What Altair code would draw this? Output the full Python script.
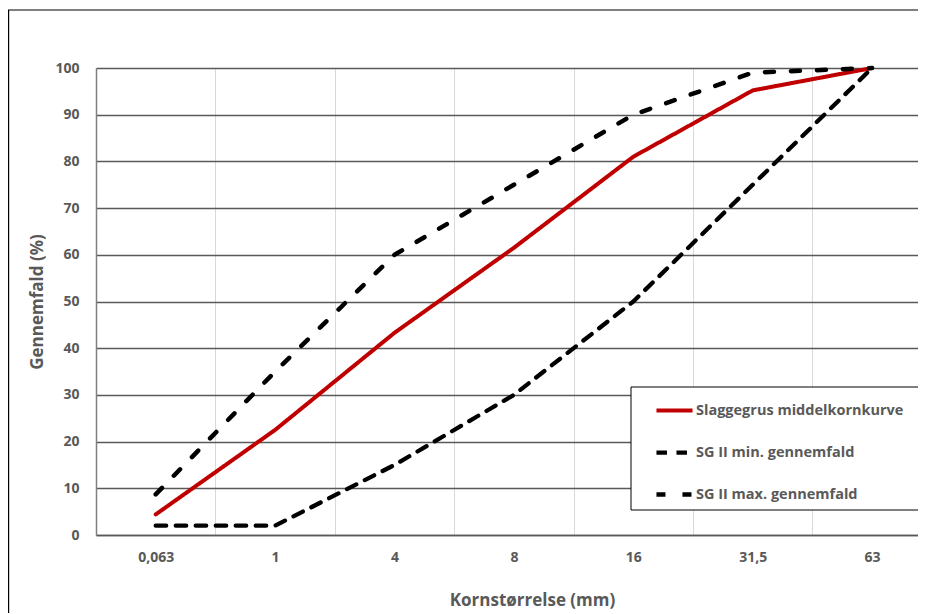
import json
import altair as alt
import pandas as pd

# --- data -------------------------------------------------------------
sizes = ["0,063", "1", "4", "8", "16", "31,5", "63"]
series_names = ["Slaggegrus middelkornkurve", "SG II min. gennemfald", "SG II max. gennemfald"]
red_curve = [4.4, 22.5, 43.3, 61.5, 81.0, 95.2, 100]
min_curve = [2, 2, 15, 30, 50, 75, 100]
max_curve = [8.7, 35, 60, 75, 90, 99, 100]
y_ticks = [0, 10, 20, 30, 40, 50, 60, 70, 80, 90, 100]

rows = []
for name, vals in zip(series_names, [red_curve, min_curve, max_curve]):
    for i, v in enumerate(vals):
        rows.append({"series": name, "idx": i, "size": sizes[i], "value": v})
df = pd.DataFrame(rows)
bounds = pd.DataFrame({"idx": [i + 0.5 for i in range(len(sizes) - 1)]})

# --- layout -----------------------------------------------------------
W, H = 822, 467
STEP = 119.4
x_max = -0.5 + W / STEP
FONT = "Open Sans"
TXT = "#595959"

label_arr = json.dumps(sizes)
x_scale = alt.Scale(domain=[-0.5, x_max], nice=False, zero=False)
y_scale = alt.Scale(domain=[0, 100], nice=False)

# vertical light gridlines between categories (band boundaries)
vgrid = alt.Chart(bounds).mark_point(opacity=0).encode(
    x=alt.X("idx:Q", scale=x_scale,
            axis=alt.Axis(orient="top", values=list(bounds["idx"]), grid=True,
                          gridColor="#d9d9d9", gridWidth=1, labels=False, ticks=False,
                          domain=False, title=None)),
)

lines = alt.Chart(df).mark_line(strokeCap="round", strokeJoin="round").encode(
    x=alt.X("idx:Q", scale=x_scale,
            axis=alt.Axis(values=list(range(len(sizes))),
                          labelExpr=f"{label_arr}[datum.value]",
                          labelPadding=15, ticks=False, grid=False,
                          domainColor="#595959", domainWidth=1.5,
                          labelFont=FONT, labelFontSize=14, labelFontWeight="bold",
                          labelColor=TXT,
                          title="Kornstørrelse (mm)", titleFont=FONT, titleFontSize=17,
                          titleFontWeight="bold", titleColor=TXT,
                          titleX=436, titleY=65, titleBaseline="middle")),
    y=alt.Y("value:Q", scale=y_scale,
            axis=alt.Axis(values=y_ticks, ticks=False, grid=True,
                          gridColor="#595959", gridWidth=1.3,
                          domainColor="#7f7f7f", domainWidth=1.5,
                          labelPadding=17, labelFont=FONT, labelFontSize=14,
                          labelFontWeight="bold", labelColor=TXT,
                          title="Gennemfald (%)", titleFont=FONT, titleFontSize=17,
                          titleFontWeight="bold", titleColor=TXT,
                          titleX=-59, titleY=H / 2, titleAngle=-90,
                          titleAlign="center", titleBaseline="middle")),
    color=alt.Color("series:N",
                    scale=alt.Scale(domain=series_names, range=["#C00000", "#000000", "#000000"]),
                    legend=alt.Legend(title=None, orient="none", legendX=558, legendY=322,
                                      symbolType="stroke", symbolSize=1300,
                                      symbolStrokeWidth=4,
                                      labelFont=FONT, labelFontSize=14.5, labelFontWeight="bold",
                                      labelColor=TXT, rowPadding=13, labelOffset=1,
                                      labelLimit=400)),
    strokeDash=alt.StrokeDash("series:N",
                              scale=alt.Scale(domain=series_names,
                                              range=[[1, 0], [10.5, 9.5], [9, 17]]),
                              legend=alt.Legend(title=None)),
    strokeWidth=alt.StrokeWidth("series:N",
                                scale=alt.Scale(domain=series_names, range=[4, 4.5, 3]),
                                legend=alt.Legend(title=None)),
    order=alt.Order("idx:Q"),
)

# legend frame (cropped at right like the reference)
legend_box = alt.Chart(pd.DataFrame({"k": [0]})).mark_rect(
    fill="white", stroke="black", strokeWidth=1
).encode(x=alt.value(535), x2=alt.value(900), y=alt.value(319), y2=alt.value(442))

# outer chart frame (left and top edges)
frame_left = alt.Chart(pd.DataFrame({"k": [0]})).mark_rule(color="black", strokeWidth=1.2).encode(
    x=alt.value(-87.4), y=alt.value(-58), y2=alt.value(H + 80))
frame_top = alt.Chart(pd.DataFrame({"k": [0]})).mark_rule(color="black", strokeWidth=1.2).encode(
    x=alt.value(-88), x2=alt.value(W + 10), y=alt.value(-58))

chart = alt.layer(vgrid, legend_box, lines, frame_left, frame_top).resolve_axis(
    x="independent"
).properties(
    width=W, height=H,
    autosize=alt.AutoSizeParams(type="none"),
    padding={"left": 88, "top": 60, "right": 0, "bottom": 78},
).configure_view(stroke=None).configure(background="white")

chart.save("out.html", embed_options={"renderer": "svg", "actions": False})
